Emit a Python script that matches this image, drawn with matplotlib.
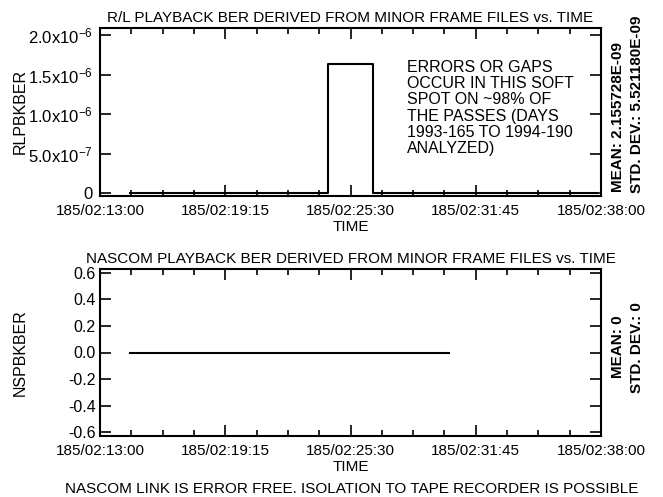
import matplotlib
matplotlib.use('Agg')
import matplotlib.pyplot as plt
from matplotlib.ticker import MultipleLocator

plt.rcParams['font.family'] = ['Liberation Sans', 'DejaVu Sans']
plt.rcParams['mathtext.fontset'] = 'custom'
plt.rcParams['mathtext.rm'] = 'Liberation Sans'
plt.rcParams['mathtext.default'] = 'rm'

# time in minutes after 185/02:13:00
time_ticks = [0, 6.25, 12.5, 18.75, 25]
time_labels = ["185/02:13:00", "185/02:19:15", "185/02:25:30", "185/02:31:45", "185/02:38:00"]

# R/L playback BER
rl_time = [1.5, 11.4, 11.4, 13.6, 13.6, 24.8]
rl_ber = [0, 0, 1.63e-6, 1.63e-6, 0, 0]
rl_yticks = [0, 0.5e-6, 1.0e-6, 1.5e-6, 2.0e-6]
rl_ylabels = ["0", "5.0x10$^{-7}$", "1.0x10$^{-6}$", "1.5x10$^{-6}$", "2.0x10$^{-6}$"]

# NASCOM playback BER
ns_time = [1.5, 17.4]
ns_ber = [0, 0]
ns_yticks = [-0.6, -0.4, -0.2, 0.0, 0.2, 0.4, 0.6]
ns_ylabels = ["-0.6", "-0.4", "-0.2", "0.0", "0.2", "0.4", "0.6"]

fig = plt.figure(figsize=(6.63, 4.97), dpi=100)
ax1 = fig.add_axes([100/663, 1-196/497, 501/663, 168/497])
ax2 = fig.add_axes([100/663, 1-436/497, 501/663, 167/497])


def style_axis(ax):
    for s in ax.spines.values():
        s.set_linewidth(1.5)
    ax.set_xlim(0, 25)
    ax.set_xticks(time_ticks)
    ax.set_xticklabels(time_labels, fontsize=11)
    ax.xaxis.set_minor_locator(MultipleLocator(1.5625))
    ax.tick_params(axis='both', which='major', direction='in', length=8, width=1.2,
                   top=True, right=True, labelsize=11)
    ax.tick_params(axis='x', which='major', pad=6)
    ax.tick_params(axis='x', which='minor', direction='in', length=4, width=1.2, top=True)
    ax.set_xlabel("TIME", fontsize=11, labelpad=1)


ax1.plot(rl_time, rl_ber, color='black', linewidth=1.5)
style_axis(ax1)
ax1.set_ylim(-0.038e-6, 2.089e-6)
ax1.set_yticks(rl_yticks)
ax1.set_yticklabels(rl_ylabels, fontsize=12)
ax1.tick_params(axis='y', pad=5)
ax1.set_title("R/L PLAYBACK BER DERIVED FROM MINOR FRAME FILES vs. TIME", fontsize=11, pad=4)
ax1.set_ylabel("RLPBKBER", fontsize=11.5)
ax1.yaxis.set_label_coords(-0.145, 0.5)
ax1.text(0.613, 0.81, "ERRORS OR GAPS\nOCCUR IN THIS SOFT\nSPOT ON ~98% OF\nTHE PASSES (DAYS\n1993-165 TO 1994-190\nANALYZED)",
         transform=ax1.transAxes, ha='left', va='top', fontsize=11.5, linespacing=1.1)
fig.text(618/663, 1-192/497, "MEAN: 2.155728E-09", rotation=90, rotation_mode='anchor',
         ha='left', va='center', fontsize=11, fontweight='bold')
fig.text(637/663, 1-193/497, "STD. DEV.: 5.521180E-09", rotation=90, rotation_mode='anchor',
         ha='left', va='center', fontsize=11, fontweight='bold')

ax2.plot(ns_time, ns_ber, color='black', linewidth=1.5)
style_axis(ax2)
ax2.set_ylim(-0.63, 0.63)
ax2.set_yticks(ns_yticks)
ax2.set_yticklabels(ns_ylabels, fontsize=11.5)
ax2.tick_params(axis='y', pad=3)
ax2.set_title("NASCOM PLAYBACK BER DERIVED FROM MINOR FRAME FILES vs. TIME", fontsize=11, pad=4)
ax2.set_ylabel("NSPBKBER", fontsize=11.5)
ax2.yaxis.set_label_coords(-0.145, 0.5)
fig.text(618/663, 1-347/497, "MEAN: 0", rotation=90, ha='center', va='center',
         fontsize=11, fontweight='bold')
fig.text(637/663, 1-348/497, "STD. DEV.: 0", rotation=90, ha='center', va='center',
         fontsize=11, fontweight='bold')

fig.text(352/663, 1-489/497, "NASCOM LINK IS ERROR FREE. ISOLATION TO TAPE RECORDER IS POSSIBLE",
         ha='center', va='center', fontsize=11)

fig.savefig('out.png', dpi=100)
